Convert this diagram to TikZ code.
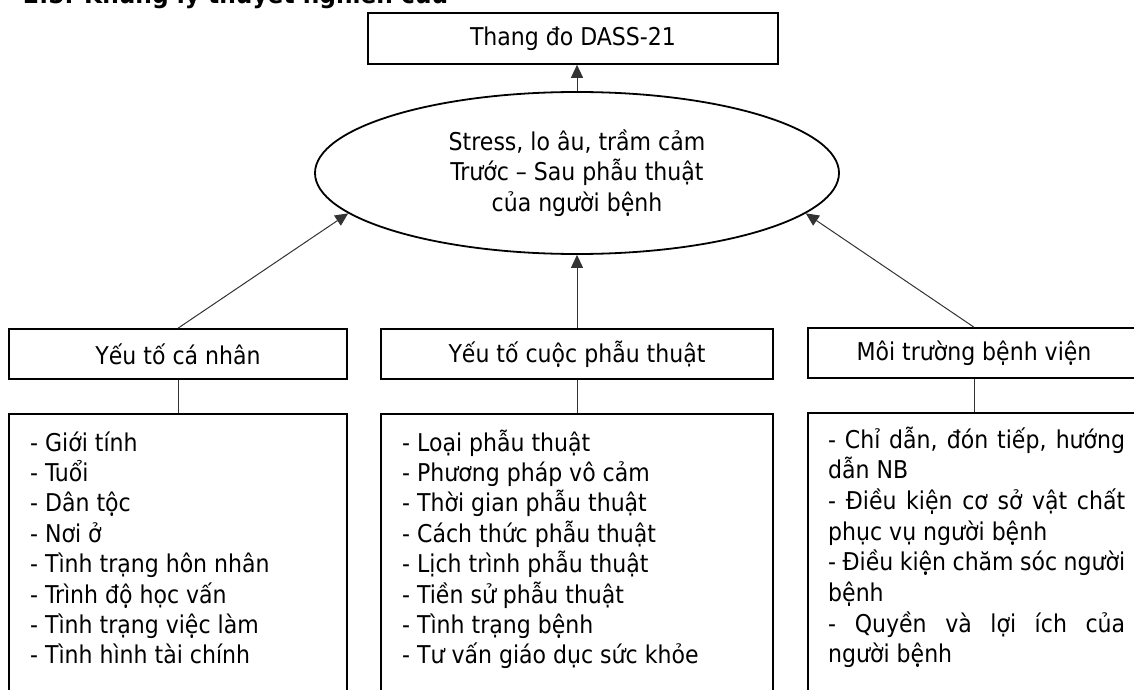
\documentclass[tikz,border=0pt]{standalone}
\usepackage{fontspec}
\setmainfont{DejaVu Sans Condensed}
\newfontfamily\headfont{DejaVu Sans}
\usetikzlibrary{arrows.meta,shapes.geometric}
\begin{document}
\begin{tikzpicture}[x=1pt,y=1pt,
  every node/.style={font=\fontsize{24.5}{30.5}\selectfont, inner sep=0pt},
  box/.style={draw, line width=1.6pt, rectangle},
  arr/.style={draw=black!80, line width=1pt, -{Triangle[length=13pt,width=12pt]}},
  link/.style={draw=black!80, line width=1pt}]
\useasboundingbox (0,0) rectangle (1134,-690);
\clip (0,0) rectangle (1134,-690);
\node[anchor=base west, font=\headfont\bfseries\fontsize{24.5}{30}\selectfont] (head) at (23,-4) {\resizebox{425pt}{\height}{2.5. Khung lý thuyết nghiên cứu}};
\node[box, minimum width=410, minimum height=51] (top) at (573,-38.5) {Thang đo DASS-21};
\node[ellipse, draw, line width=1.8pt, minimum width=524, minimum height=162, align=center] (ell) at (577,-173) {Stress, lo âu, trầm cảm\\Trước – Sau phẫu thuật\\của người bệnh};
\node[box, minimum width=338, minimum height=50] (b1) at (178,-354) {Yếu tố cá nhân};
\node[box, minimum width=392, minimum height=50] (b2) at (577,-354) {Yếu tố cuộc phẫu thuật};
\node[box, minimum width=332, minimum height=50] (b3) at (974,-353) {Môi trường bệnh viện};
\node[box, minimum width=338, minimum height=306] (l1) at (178,-567) {};
\node[box, minimum width=392, minimum height=306] (l2) at (577,-567) {};
\node[box, minimum width=332, minimum height=306] (l3) at (974,-566) {};
\draw[arr] (ell.north) -- (ell.north |- top.south);
\draw[arr] (b1.north) -- (ell.190);
\draw[arr] (b2.north) -- (ell.south);
\draw[arr] (b3.north) -- (ell.350);
\draw[link] (b1.south) -- (l1.north);
\draw[link] (b2.south) -- (l2.north);
\draw[link] (b3.south) -- (l3.north);
\foreach \t [count=\i] in {{- Giới tính},{- Tuổi},{- Dân tộc},{- Nơi ở},{- Tình trạng hôn nhân},{- Trình độ học vấn},{- Tình trạng việc làm},{- Tình hình tài chính}}
  \node[anchor=base west] (pa\i) at (30,{-451-30.4*(\i-1)}) {\t};
\foreach \t [count=\i] in {{- Loại phẫu thuật},{- Phương pháp vô cảm},{- Thời gian phẫu thuật},{- Cách thức phẫu thuật},{- Lịch trình phẫu thuật},{- Tiền sử phẫu thuật},{- Tình trạng bệnh},{- Tư vấn giáo dục sức khỏe}}
  \node[anchor=base west] (pb\i) at (402,{-451-30.4*(\i-1)}) {\t};
\node[anchor=base west] (pc1) at (828,-448) {\makebox[297pt][s]{- Chỉ dẫn, đón tiếp, hướng}};
\node[anchor=base west] (pc2) at (828,-478.7) {dẫn NB};
\node[anchor=base west] (pc3) at (828,-509.4) {\makebox[297pt][s]{- Điều kiện cơ sở vật chất}};
\node[anchor=base west] (pc4) at (828,-540.1) {phục vụ người bệnh};
\node[anchor=base west] (pc5) at (828,-570.8) {\makebox[297pt][s]{- Điều kiện chăm sóc người}};
\node[anchor=base west] (pc6) at (828,-601.5) {bệnh};
\node[anchor=base west] (pc7) at (828,-632.2) {\makebox[297pt][s]{- Quyền và lợi ích của}};
\node[anchor=base west] (pc8) at (828,-662.9) {người bệnh};
\end{tikzpicture}
\end{document}
